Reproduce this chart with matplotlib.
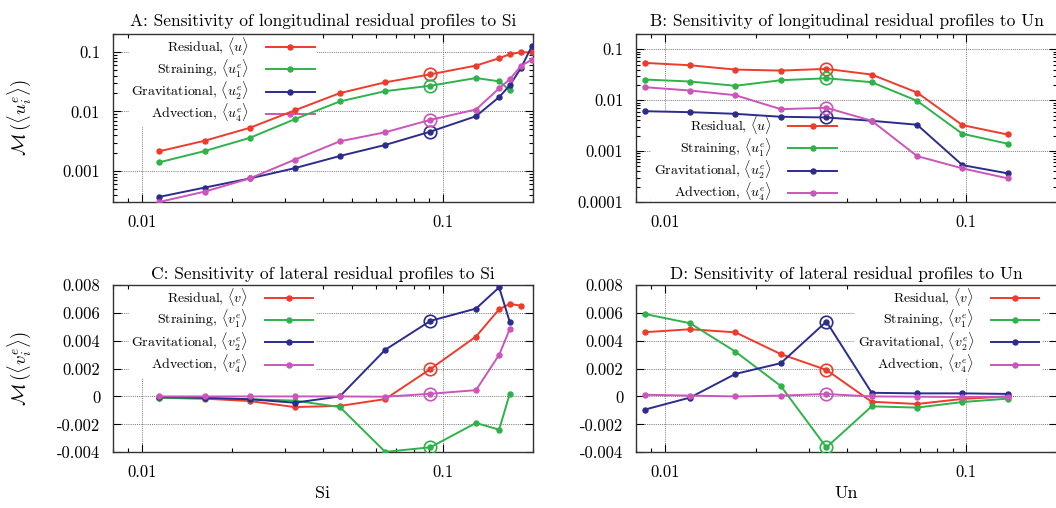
import numpy as np
import matplotlib
matplotlib.use("Agg")
import matplotlib.pyplot as plt
from matplotlib.ticker import FixedLocator, LogLocator, NullFormatter

plt.rcParams['font.family'] = ['cmr10', 'DejaVu Serif']
plt.rcParams['mathtext.fontset'] = 'cm'
plt.rcParams['axes.unicode_minus'] = False
plt.rcParams['axes.formatter.use_mathtext'] = True

nan = np.nan

# parameter values (x axes)
si = [0.0114, 0.0162, 0.0228, 0.0322, 0.0455, 0.0644, 0.091, 0.129, 0.154, 0.167, 0.182, 0.198]
un = [0.00857, 0.0121, 0.0171, 0.0242, 0.0343, 0.0485, 0.0686, 0.097, 0.137]
si_ref = 6   # circled reference run
un_ref = 4

# A: longitudinal vs Si
res_u_si = [0.00213, 0.00322, 0.00528, 0.0104, 0.0203, 0.0308, 0.042, 0.0589, 0.0783, 0.0914, 0.0989, 0.098]
str_u_si = [0.00139, 0.00216, 0.00358, 0.00738, 0.0147, 0.0219, 0.027, 0.0364, 0.032, 0.0226, nan, nan]
grav_u_si = [0.000365, 0.000525, 0.000745, 0.00111, 0.00178, 0.00273, 0.00457, 0.0083, 0.0174, 0.0273, 0.0537, 0.126]
adv_u_si = [0.0003, 0.000449, 0.000745, 0.00154, 0.00314, 0.00446, 0.00721, 0.01076, 0.0244, 0.0346, 0.0581, 0.0744]

# B: longitudinal vs Un
res_u_un = [0.0541, 0.0486, 0.040, 0.0382, 0.0413, 0.0319, 0.01416, 0.00324, 0.00212]
str_u_un = [0.0255, 0.0233, 0.0192, 0.0247, 0.027, 0.0226, 0.00973, 0.00219, 0.0014]
grav_u_un = [0.00608, 0.00582, 0.0054, 0.00473, 0.00458, 0.00394, 0.0033, 0.000531, 0.000366]
adv_u_un = [0.018, 0.0155, 0.01253, 0.00667, 0.0071, 0.00394, 0.000798, 0.000458, 0.000292]

# C: lateral vs Si
res_v_si = [-0.0001, -0.00016, -0.00033, -0.00076, -0.00068, -0.00019, 0.00196, 0.00429, 0.00624, 0.00662, 0.0065, nan]
str_v_si = [-0.0001, -0.00013, -0.0002, -0.0003, -0.00076, -0.00397, -0.00364, -0.0019, -0.00238, 0.00019, nan, nan]
grav_v_si = [-0.00004, -0.0001, -0.0002, -0.00045, 0.0, 0.00334, 0.00541, 0.00629, 0.00781, 0.00534, nan, nan]
adv_v_si = [0.0, 0.0, 0.0, 0.0, 0.0, -0.00002, 0.00019, 0.00045, 0.00298, 0.00481, nan, nan]

# D: lateral vs Un
res_v_un = [0.0046, 0.00481, 0.00459, 0.00303, 0.0019, -0.00038, -0.00054, -0.00018, 0.0]
str_v_un = [0.0059, 0.00524, 0.00321, 0.00075, -0.00365, -0.00071, -0.0008, -0.0004, -0.00016]
grav_v_un = [-0.00094, -0.00008, 0.00161, 0.00238, 0.00536, 0.00026, 0.00022, 0.00022, 0.00018]
adv_v_un = [0.00012, 0.00006, 0.0, 0.00006, 0.00017, 0.0, -0.00002, -0.00004, -0.00002]

colors = ['#ee3b2b', '#2fb24a', '#2c2c8c', '#cc55bb']
names = ['Residual', 'Straining', 'Gravitational', 'Advection']

log_ticks = [0.0001, 0.001, 0.01, 0.1]
log_labels = ['0.0001', '0.001', '0.01', '0.1']
lin_ticks = [-0.004, -0.002, 0, 0.002, 0.004, 0.006, 0.008]
lin_labels = ['-0.004', '-0.002', '0', '0.002', '0.004', '0.006', '0.008']

W, H = 1056, 508
fig = plt.figure(figsize=(W / 100, H / 100), dpi=100)


def px_axes(x0, y0, x1, y1):
    return fig.add_axes([x0 / W, 1 - y1 / H, (x1 - x0) / W, (y1 - y0) / H])


def panel(ax, x, series, ref, sym, title, logy, ylim, leg_loc, leg_anchor, ylabel=None, xlabel=None, tpad=6):
    labels = [r'%s, $\langle %s\rangle$' % (names[0], sym)] + \
             [r'%s, $\langle %s_%d^e\rangle$' % (n, sym, k) for n, k in zip(names[1:], [1, 2, 4])]
    for ys, c, lab in zip(series, colors, labels):
        ax.plot(x, ys, color=c, lw=1.4, marker='o', ms=3.6, label=lab, zorder=3)
        ax.plot(x[ref], ys[ref], ls='none', marker='o', ms=9, mfc='none', mec=c, mew=1.2, zorder=3)
    ax.set_xscale('log')
    ax.set_xlim(0.008, 0.2)
    if logy:
        ax.set_yscale('log')
        ax.yaxis.set_major_locator(FixedLocator(log_ticks))
        ax.set_yticklabels(log_labels)
        ax.yaxis.set_minor_locator(LogLocator(base=10, subs=np.arange(2, 10)))
        ax.yaxis.set_minor_formatter(NullFormatter())
    else:
        ax.yaxis.set_major_locator(FixedLocator(lin_ticks))
        ax.set_yticklabels(lin_labels)
    ax.set_ylim(*ylim)
    ax.xaxis.set_major_locator(FixedLocator([0.01, 0.1]))
    ax.set_xticklabels(['0.01', '0.1'])
    ax.xaxis.set_minor_locator(LogLocator(base=10, subs=np.arange(2, 10)))
    ax.xaxis.set_minor_formatter(NullFormatter())
    ax.tick_params(which='both', direction='in', top=True, right=True, labelsize=12, width=0.8)
    ax.tick_params(which='major', length=6, pad=9)
    ax.tick_params(which='minor', length=3)
    ax.grid(True, which='major', ls=(0, (1, 1.2)), color='#777777', lw=0.7)
    ax.set_axisbelow(True)
    for s in ax.spines.values():
        s.set_linewidth(1.0)
        s.set_color('#333333')
    ax.set_title(title, fontsize=12.5, pad=tpad)
    if ylabel:
        ax.set_ylabel(ylabel, fontsize=13.5)
        ax.yaxis.set_label_coords(-0.19, 0.5)
    if xlabel:
        ax.set_xlabel(xlabel, fontsize=13, labelpad=4)
    leg = ax.legend(loc=leg_loc, bbox_to_anchor=leg_anchor, markerfirst=False, fontsize=10,
                    handlelength=3.5, handletextpad=1.2, labelspacing=0.02, borderpad=0.2,
                    borderaxespad=0, frameon=True, fancybox=False, framealpha=1,
                    facecolor='white', edgecolor='none')
    leg.set_zorder(2.4)   # under the frame lines, over the grid
    return leg


axA = px_axes(112.7, 34, 533.3, 202)
axB = px_axes(636, 34, 1057, 202)
axC = px_axes(112.7, 284.7, 533.3, 452.3)
axD = px_axes(636, 284.7, 1057, 452.3)

panel(axA, si, [res_u_si, str_u_si, grav_u_si, adv_u_si], si_ref, 'u',
      'A: Sensitivity of longitudinal residual profiles to Si', True, (0.0003, 0.2),
      'upper left', (0.038, 1.01), ylabel=r'$\mathcal{M}\,(\langle u_i^e\rangle)$')
panel(axB, un, [res_u_un, str_u_un, grav_u_un, adv_u_un], un_ref, 'u',
      'B: Sensitivity of longitudinal residual profiles to Un', True, (0.0001, 0.2),
      'lower left', (0.036, -0.025))
panel(axC, si, [res_v_si, str_v_si, grav_v_si, adv_v_si], si_ref, 'v',
      'C: Sensitivity of lateral residual profiles to Si', False, (-0.004, 0.008),
      'upper left', (0.038, 1.01), ylabel=r'$\mathcal{M}\,(\langle v_i^e\rangle)$', xlabel='Si', tpad=4)
panel(axD, un, [res_v_un, str_v_un, grav_v_un, adv_v_un], un_ref, 'v',
      'D: Sensitivity of lateral residual profiles to Un', False, (-0.004, 0.008),
      'upper right', (0.965, 1.01), xlabel='Un', tpad=4)

fig.savefig('out.png', dpi=100)
